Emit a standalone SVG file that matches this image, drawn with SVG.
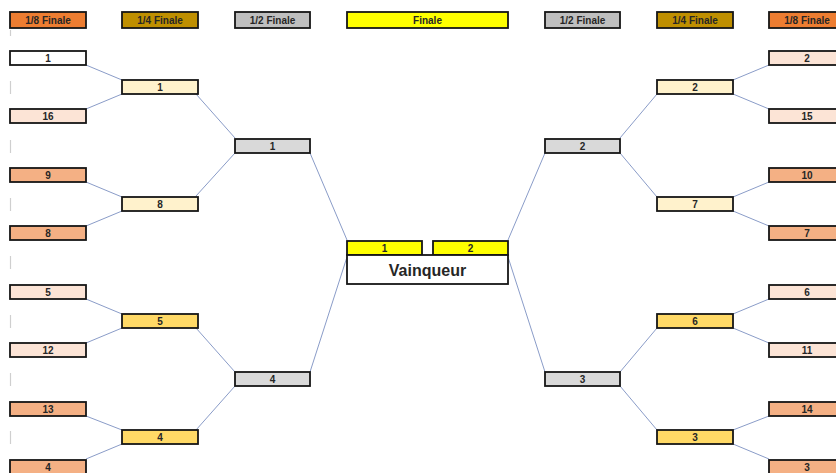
<svg xmlns="http://www.w3.org/2000/svg" width="836" height="473" viewBox="0 0 836 473">
  <style>
    .box { stroke: #161616; stroke-width: 1.8; }
    .t { font-family: "Liberation Sans", Arial, sans-serif; font-weight: bold; font-size: 10px; fill: #262626; text-anchor: middle; }
    .big { font-size: 16px; }
    .link { stroke: #8a9cc8; stroke-width: 1; fill: none; }
    .tick { stroke: #cfcfcf; stroke-width: 1.2; }
    .r16a { fill: #ffffff; }
    .r16l { fill: #fce4d6; }
    .r16d { fill: #f4b084; }
    .qfl { fill: #fff2cc; }
    .qfd { fill: #ffd966; }
    .sf { fill: #d9d9d9; }
    .fin { fill: #ffff00; }
    .h8 { fill: #ed7d31; }
    .h4 { fill: #bf8f00; }
    .h2 { fill: #bfbfbf; }
  </style>

  <rect width="836" height="473" fill="#ffffff"/>

  <!-- faint cell edge marks in the first column -->
  <g id="ticks" class="tick">
    <line x1="10.5" y1="30" x2="10.5" y2="36"/>
    <line x1="10.5" y1="81" x2="10.5" y2="94"/>
    <line x1="10.5" y1="140" x2="10.5" y2="153"/>
    <line x1="10.5" y1="198" x2="10.5" y2="211"/>
    <line x1="10.5" y1="256" x2="10.5" y2="269"/>
    <line x1="10.5" y1="315" x2="10.5" y2="328"/>
    <line x1="10.5" y1="373" x2="10.5" y2="386"/>
    <line x1="10.5" y1="431" x2="10.5" y2="444"/>
  </g>

  <!-- connectors -->
  <g id="connectors" class="link">
    <!-- left: round of 16 to quarter-finals -->
    <line x1="86" y1="65" x2="122" y2="80"/>
    <line x1="86" y1="109" x2="122" y2="94"/>
    <line x1="86" y1="182" x2="122" y2="197"/>
    <line x1="86" y1="226" x2="122" y2="211"/>
    <line x1="86" y1="299" x2="122" y2="314"/>
    <line x1="86" y1="343" x2="122" y2="328"/>
    <line x1="86" y1="416" x2="122" y2="430"/>
    <line x1="86" y1="459" x2="122" y2="444"/>
    <!-- left: quarter-finals to semi-finals -->
    <line x1="196" y1="94" x2="235" y2="138"/>
    <line x1="196" y1="196" x2="235" y2="153"/>
    <line x1="196" y1="328" x2="235" y2="372"/>
    <line x1="196" y1="430" x2="235" y2="386"/>
    <!-- left: semi-finals to final -->
    <line x1="310" y1="153" x2="347" y2="240"/>
    <line x1="310" y1="372" x2="347" y2="257"/>
    <!-- right: final to semi-finals -->
    <line x1="508" y1="240" x2="545" y2="153"/>
    <line x1="508" y1="257" x2="545" y2="372"/>
    <!-- right: semi-finals to quarter-finals -->
    <line x1="620" y1="138" x2="657" y2="94"/>
    <line x1="620" y1="153" x2="657" y2="197"/>
    <line x1="620" y1="372" x2="657" y2="328"/>
    <line x1="620" y1="386" x2="657" y2="430"/>
    <!-- right: quarter-finals to round of 16 -->
    <line x1="733" y1="80" x2="769" y2="65"/>
    <line x1="733" y1="94" x2="769" y2="109"/>
    <line x1="733" y1="197" x2="769" y2="182"/>
    <line x1="733" y1="211" x2="769" y2="226"/>
    <line x1="733" y1="314" x2="769" y2="299"/>
    <line x1="733" y1="328" x2="769" y2="343"/>
    <line x1="733" y1="430" x2="769" y2="416"/>
    <line x1="733" y1="444" x2="769" y2="459"/>
  </g>

  <!-- round headers -->
  <g id="h-l8"><rect class="box h8" x="10" y="12" width="76" height="16"/><text class="t" x="48" y="24">1/8 Finale</text></g>
  <g id="h-l4"><rect class="box h4" x="122" y="12" width="76" height="16"/><text class="t" x="160" y="24">1/4 Finale</text></g>
  <g id="h-l2"><rect class="box h2" x="235" y="12" width="75" height="16"/><text class="t" x="272.5" y="24">1/2 Finale</text></g>
  <g id="h-f"><rect class="box fin" x="347" y="12" width="161" height="16"/><text class="t" x="427.5" y="24">Finale</text></g>
  <g id="h-r2"><rect class="box h2" x="545" y="12" width="75" height="16"/><text class="t" x="582.5" y="24">1/2 Finale</text></g>
  <g id="h-r4"><rect class="box h4" x="657" y="12" width="76" height="16"/><text class="t" x="695" y="24">1/4 Finale</text></g>
  <g id="h-r8"><rect class="box h8" x="769" y="12" width="76" height="16"/><text class="t" x="807" y="24">1/8 Finale</text></g>

  <!-- left round of 16 -->
  <g id="l16-1"><rect class="box r16a" x="10" y="51" width="76" height="14"/><text class="t" x="48" y="62">1</text></g>
  <g id="l16-16"><rect class="box r16l" x="10" y="109" width="76" height="14"/><text class="t" x="48" y="120">16</text></g>
  <g id="l16-9"><rect class="box r16d" x="10" y="168" width="76" height="14"/><text class="t" x="48" y="179">9</text></g>
  <g id="l16-8"><rect class="box r16d" x="10" y="226" width="76" height="14"/><text class="t" x="48" y="237">8</text></g>
  <g id="l16-5"><rect class="box r16l" x="10" y="285" width="76" height="14"/><text class="t" x="48" y="296">5</text></g>
  <g id="l16-12"><rect class="box r16l" x="10" y="343" width="76" height="14"/><text class="t" x="48" y="354">12</text></g>
  <g id="l16-13"><rect class="box r16d" x="10" y="402" width="76" height="14"/><text class="t" x="48" y="413">13</text></g>
  <g id="l16-4"><rect class="box r16d" x="10" y="460" width="76" height="14"/><text class="t" x="48" y="471">4</text></g>

  <!-- left quarter-finals -->
  <g id="lqf-1"><rect class="box qfl" x="122" y="80" width="76" height="14"/><text class="t" x="160" y="91">1</text></g>
  <g id="lqf-8"><rect class="box qfl" x="122" y="197" width="76" height="14"/><text class="t" x="160" y="208">8</text></g>
  <g id="lqf-5"><rect class="box qfd" x="122" y="314" width="76" height="14"/><text class="t" x="160" y="325">5</text></g>
  <g id="lqf-4"><rect class="box qfd" x="122" y="430" width="76" height="14"/><text class="t" x="160" y="441">4</text></g>

  <!-- left semi-finals -->
  <g id="lsf-1"><rect class="box sf" x="235" y="139" width="75" height="14"/><text class="t" x="272.5" y="150">1</text></g>
  <g id="lsf-4"><rect class="box sf" x="235" y="372" width="75" height="14"/><text class="t" x="272.5" y="383">4</text></g>

  <!-- final -->
  <g id="final-1"><rect class="box fin" x="347" y="241" width="75" height="14"/><text class="t" x="384.5" y="252">1</text></g>
  <g id="final-2"><rect class="box fin" x="433" y="241" width="75" height="14"/><text class="t" x="470.5" y="252">2</text></g>
  <g id="winner"><rect class="box" fill="#ffffff" x="347" y="255" width="161" height="29"/><text class="t big" x="427.5" y="276">Vainqueur</text></g>

  <!-- right semi-finals -->
  <g id="rsf-2"><rect class="box sf" x="545" y="139" width="75" height="14"/><text class="t" x="582.5" y="150">2</text></g>
  <g id="rsf-3"><rect class="box sf" x="545" y="372" width="75" height="14"/><text class="t" x="582.5" y="383">3</text></g>

  <!-- right quarter-finals -->
  <g id="rqf-2"><rect class="box qfl" x="657" y="80" width="76" height="14"/><text class="t" x="695" y="91">2</text></g>
  <g id="rqf-7"><rect class="box qfl" x="657" y="197" width="76" height="14"/><text class="t" x="695" y="208">7</text></g>
  <g id="rqf-6"><rect class="box qfd" x="657" y="314" width="76" height="14"/><text class="t" x="695" y="325">6</text></g>
  <g id="rqf-3"><rect class="box qfd" x="657" y="430" width="76" height="14"/><text class="t" x="695" y="441">3</text></g>

  <!-- right round of 16 -->
  <g id="r16-2"><rect class="box r16l" x="769" y="51" width="76" height="14"/><text class="t" x="807" y="62">2</text></g>
  <g id="r16-15"><rect class="box r16l" x="769" y="109" width="76" height="14"/><text class="t" x="807" y="120">15</text></g>
  <g id="r16-10"><rect class="box r16d" x="769" y="168" width="76" height="14"/><text class="t" x="807" y="179">10</text></g>
  <g id="r16-7"><rect class="box r16d" x="769" y="226" width="76" height="14"/><text class="t" x="807" y="237">7</text></g>
  <g id="r16-6"><rect class="box r16l" x="769" y="285" width="76" height="14"/><text class="t" x="807" y="296">6</text></g>
  <g id="r16-11"><rect class="box r16l" x="769" y="343" width="76" height="14"/><text class="t" x="807" y="354">11</text></g>
  <g id="r16-14"><rect class="box r16d" x="769" y="402" width="76" height="14"/><text class="t" x="807" y="413">14</text></g>
  <g id="r16-3"><rect class="box r16d" x="769" y="460" width="76" height="14"/><text class="t" x="807" y="471">3</text></g>
</svg>
